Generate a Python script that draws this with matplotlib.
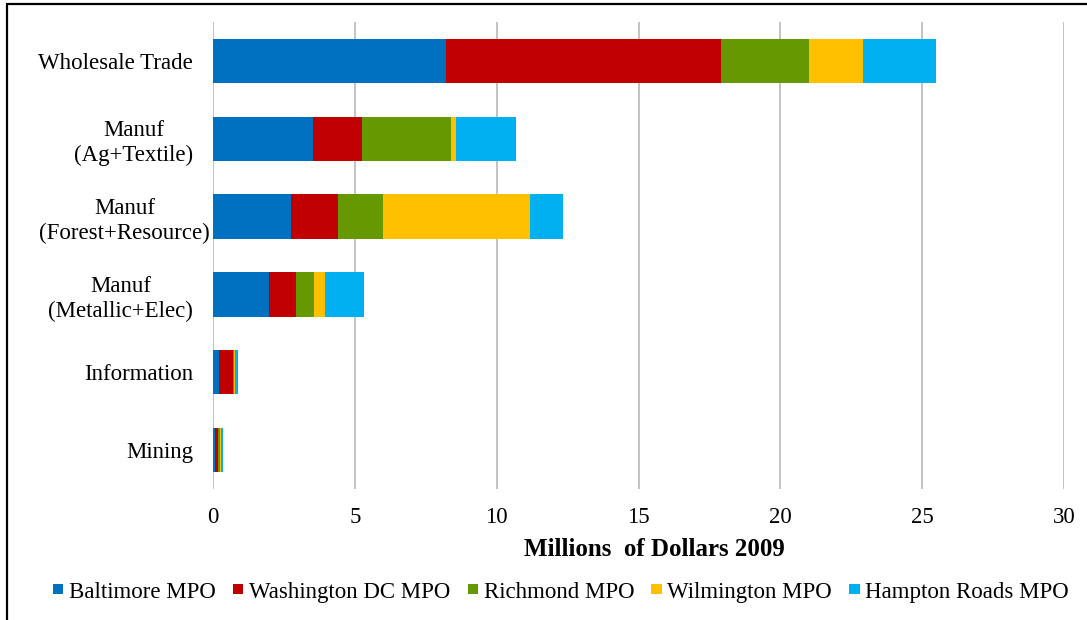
import matplotlib
matplotlib.use("Agg")
import matplotlib.pyplot as plt
from matplotlib.patches import Rectangle
from matplotlib.legend_handler import HandlerPatch
import matplotlib.transforms as mtransforms
import numpy as np

categories = ["Wholesale Trade", "Manuf\n(Ag+Textile)", "Manuf\n(Forest+Resource)",
              "Manuf\n(Metallic+Elec)", "Information", "Mining"]
series_names = ["Baltimore MPO", "Washington DC MPO", "Richmond MPO",
                "Wilmington MPO", "Hampton Roads MPO"]
baltimore = [8.2, 3.54, 2.76, 1.98, 0.20, 0.06]
washington = [9.7, 1.70, 1.65, 0.96, 0.49, 0.12]
richmond = [3.1, 3.16, 1.58, 0.63, 0.05, 0.06]
wilmington = [1.9, 0.16, 5.18, 0.39, 0.03, 0.04]
hampton = [2.6, 2.12, 1.18, 1.36, 0.12, 0.07]
colors = ["#0070C0", "#C00000", "#669900", "#FFC000", "#00B0F0"]
xticks = [0, 5, 10, 15, 20, 25, 30]

plt.rcParams['font.family'] = ['Liberation Serif', 'DejaVu Serif']
FS = 16.5

fig = plt.figure(figsize=(10.87, 6.2), dpi=100)
W, H = 1087, 620
ax = fig.add_axes([213 / W, 1 - 489 / H, (1064 - 213) / W, (489 - 22) / H])

y = np.arange(len(categories))
left = np.zeros(len(categories))
for name, vals, c in zip(series_names, [baltimore, washington, richmond, wilmington, hampton], colors):
    ax.barh(y, vals, left=left, height=0.57, color=c, label=name, zorder=3)
    left += np.array(vals)

ax.set_ylim(len(categories) - 0.5, -0.5)
ax.set_xlim(0, 30)
ax.set_xticks(xticks)
ax.set_xticklabels([str(t) for t in xticks], fontsize=FS)
ax.set_yticks(y)
ax.set_yticklabels(categories, fontsize=FS, ha='right', multialignment='center', linespacing=1.25)
ax.tick_params(axis='y', length=0, pad=14.5)
ax.tick_params(axis='x', length=0, pad=13)
# the widest label sits closer to the plot, as in the original
lbl = ax.get_yticklabels()[2]
lbl.set_transform(lbl.get_transform() + mtransforms.ScaledTranslation(17 / 100, 0, fig.dpi_scale_trans))
for s in ax.spines.values():
    s.set_visible(False)
ax.grid(axis='x', color='#B8B8B8', linewidth=1.2, zorder=0)
ax.set_xlabel("Millions  of Dollars 2009", fontsize=18, fontweight='bold')
ax.xaxis.set_label_coords((654 - 213) / (1064 - 213), -(549 - 489) / (489 - 22))
ax.xaxis.label.set_va('center')


def small_square(legend, orig_handle, xdescent, ydescent, width, height, fontsize):
    w = width
    h = height * 0.62
    return Rectangle((-xdescent, -ydescent + (height - h) / 2 + height * 0.06), w, h)


proxies = [Rectangle((0, 0), 1, 1, facecolor=c, edgecolor='none') for c in colors]
fig.legend(proxies, series_names, loc='center', bbox_to_anchor=(561 / W, 1 - 592 / H), ncol=5,
           frameon=False, fontsize=FS, handlelength=0.45, handleheight=0.7,
           handletextpad=0.25, columnspacing=0.75, borderpad=0,
           handler_map={Rectangle: HandlerPatch(patch_func=small_square)})

fig.add_artist(Rectangle((7 / W, -0.1), 2, (1 - 4 / H) + 0.1, transform=fig.transFigure,
                         fill=False, edgecolor='black', linewidth=1.6))

fig.savefig("out.png", dpi=100)
